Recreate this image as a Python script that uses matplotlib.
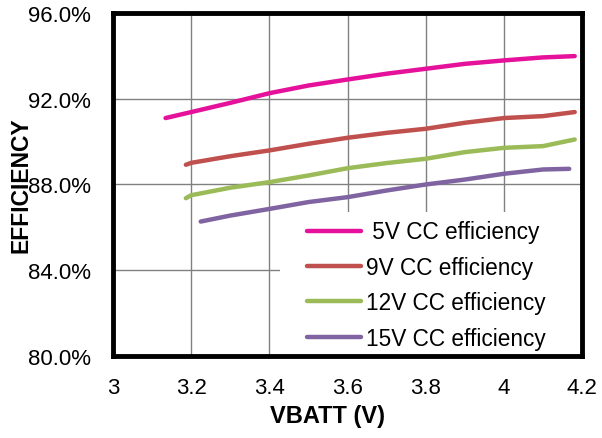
import matplotlib
matplotlib.use("Agg")
from matplotlib import pyplot as plt
from matplotlib.patches import Rectangle
from matplotlib.ticker import FuncFormatter

plt.rcParams['font.family'] = ['Liberation Sans', 'DejaVu Sans']

# data
v_5 = [3.134, 3.2, 3.3, 3.4, 3.5, 3.6, 3.7, 3.8, 3.9, 4.0, 4.1, 4.181]
eff_5 = [91.10, 91.38, 91.81, 92.26, 92.62, 92.90, 93.17, 93.40, 93.63, 93.79, 93.93, 93.99]

v_9 = [3.186, 3.2, 3.3, 3.4, 3.5, 3.6, 3.7, 3.8, 3.9, 4.0, 4.1, 4.181]
eff_9 = [88.92, 89.01, 89.32, 89.59, 89.90, 90.18, 90.41, 90.60, 90.88, 91.10, 91.19, 91.38]

v_12 = [3.186, 3.2, 3.3, 3.4, 3.5, 3.6, 3.7, 3.8, 3.9, 4.0, 4.1, 4.181]
eff_12 = [87.36, 87.50, 87.85, 88.11, 88.42, 88.76, 89.00, 89.20, 89.51, 89.71, 89.79, 90.10]

v_15 = [3.224, 3.3, 3.4, 3.5, 3.6, 3.7, 3.8, 3.9, 4.0, 4.1, 4.167]
eff_15 = [86.27, 86.55, 86.86, 87.18, 87.41, 87.72, 88.00, 88.23, 88.50, 88.70, 88.73]

labels = [" 5V CC efficiency", "9V CC efficiency", "12V CC efficiency", "15V CC efficiency"]
colors = ["#E5119B", "#C0504D", "#9BBB59", "#8064A2"]

x_ticks = [3, 3.2, 3.4, 3.6, 3.8, 4, 4.2]
y_ticks = [80, 84, 88, 92, 96]

fig = plt.figure(figsize=(6.02, 4.39), dpi=100)
ax = fig.add_axes([0.188, 0.187, 0.779, 0.781])

series = [(v_5, eff_5), (v_9, eff_9), (v_12, eff_12), (v_15, eff_15)]
for (xs, ys), lab, col in zip(series, labels, colors):
    ax.plot(xs, ys, color=col, lw=3.2, solid_capstyle='round', label=lab)

ax.set_xlim(3, 4.2)
ax.set_ylim(80, 96)
ax.set_xticks(x_ticks)
ax.set_yticks(y_ticks)
ax.set_xticklabels(["3", "3.2", "3.4", "3.6", "3.8", "4", "4.2"])
ax.yaxis.set_major_formatter(FuncFormatter(lambda v, p: f"{v:.1f}%"))
ax.tick_params(length=0, labelsize=16, colors="#000000")
ax.tick_params(axis='x', pad=15)
ax.tick_params(axis='y', pad=16)
ax.grid(True, color="#808080", lw=1)
ax.set_axisbelow(True)
for sp in ax.spines.values():
    sp.set_linewidth(3.5)
    sp.set_color("black")

ax.set_xlabel("VBATT (V)", fontsize=17, fontweight='bold')
ax.xaxis.set_label_coords(0.458, -0.139)
ax.set_ylabel("EFFICIENCY", fontsize=16.5, fontweight='bold', labelpad=-3)

# white legend area in the lower right corner
ax.add_patch(Rectangle((0.356, 0), 0.644, 0.42, transform=ax.transAxes,
                       facecolor='white', edgecolor='none', zorder=1.5))

leg = ax.legend(loc='upper left', bbox_to_anchor=(0.414, 0.395), fontsize=16.3,
                frameon=False, borderpad=0, labelspacing=0.55, handlelength=2.35,
                handletextpad=0.25, borderaxespad=0)

fig.savefig("out.png", dpi=100)
